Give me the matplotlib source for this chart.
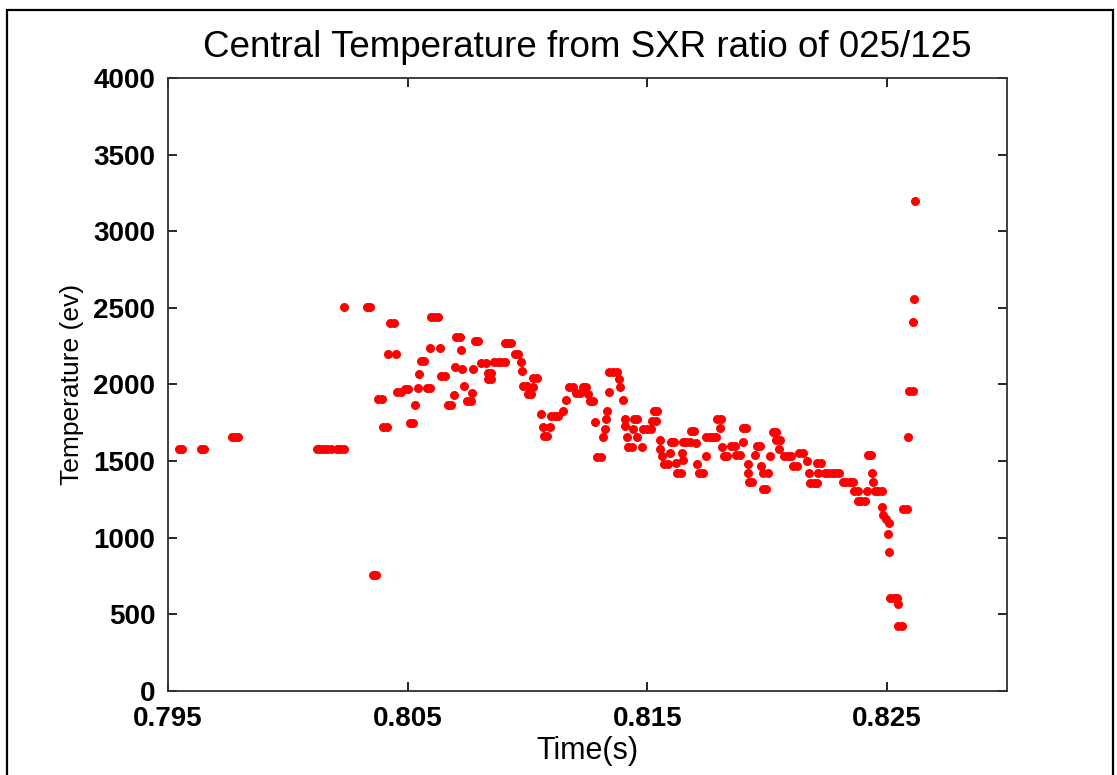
import numpy as np
import matplotlib
matplotlib.use("Agg")
import matplotlib.pyplot as plt
from matplotlib.patches import Rectangle

# time (s) and central temperature (eV)
time_s = [
    0.79546, 0.79560, 0.79638, 0.79652, 0.79765, 0.79779, 0.79794,
    0.80121, 0.80136, 0.80150, 0.80165, 0.80179, 0.80204, 0.80219, 0.80234,
    0.80235, 0.80329, 0.80344, 0.80355, 0.80370, 0.80376, 0.80391, 0.80397,
    0.80412, 0.80416, 0.80427, 0.80442, 0.80452, 0.80457, 0.80472, 0.80488,
    0.80503, 0.80508, 0.80523, 0.80532, 0.80542, 0.80548, 0.80554, 0.80569,
    0.80579, 0.80594, 0.80595, 0.80598, 0.80611, 0.80625, 0.80634, 0.80639,
    0.80654, 0.80668, 0.80683, 0.80692, 0.80696, 0.80703, 0.80718, 0.80721,
    0.80728, 0.80734, 0.80749, 0.80763, 0.80770, 0.80774, 0.80779, 0.80794,
    0.80805, 0.80826, 0.80835, 0.80849, 0.80835, 0.80849, 0.80861, 0.80876,
    0.80890, 0.80905, 0.80905, 0.80919, 0.80932, 0.80946, 0.80961, 0.80974,
    0.80977, 0.80981, 0.80996, 0.81001, 0.81016, 0.81023, 0.81025, 0.81040,
    0.81058, 0.81064, 0.81068, 0.81083, 0.81095, 0.81098, 0.81113, 0.81128,
    0.81148, 0.81159, 0.81175, 0.81190, 0.81204, 0.81219, 0.81231, 0.81246,
    0.81252, 0.81260, 0.81275, 0.81282, 0.81290, 0.81305, 0.81317, 0.81325,
    0.81328, 0.81330, 0.81342, 0.81342, 0.81357, 0.81372, 0.81381, 0.81387,
    0.81399, 0.81405, 0.81407, 0.81415, 0.81420, 0.81435, 0.81440, 0.81443,
    0.81458, 0.81458, 0.81478, 0.81484, 0.81499, 0.81514, 0.81520, 0.81535,
    0.81527, 0.81541, 0.81551, 0.81553, 0.81561, 0.81571, 0.81586, 0.81593,
    0.81598, 0.81613, 0.81619, 0.81625, 0.81640, 0.81643, 0.81647, 0.81648,
    0.81663, 0.81678, 0.81682, 0.81697, 0.81704, 0.81707, 0.81716, 0.81731,
    0.81743, 0.81747, 0.81761, 0.81775, 0.81788, 0.81791, 0.81806, 0.81804,
    0.81812, 0.81819, 0.81834, 0.81849, 0.81864, 0.81870, 0.81885, 0.81898,
    0.81913, 0.81901, 0.81919, 0.81922, 0.81923, 0.81938, 0.81951, 0.81957,
    0.81972, 0.81975, 0.81982, 0.81981, 0.81996, 0.82002, 0.82012, 0.82023,
    0.82038, 0.82037, 0.82052, 0.82051, 0.82071, 0.82086, 0.82101, 0.82109,
    0.82124, 0.82134, 0.82149, 0.82165, 0.82173, 0.82179, 0.82194, 0.82209,
    0.82211, 0.82210, 0.82225, 0.82241, 0.82255, 0.82270, 0.82284, 0.82299,
    0.82316, 0.82330, 0.82344, 0.82357, 0.82363, 0.82378, 0.82378, 0.82393,
    0.82408, 0.82416, 0.82419, 0.82434, 0.82437, 0.82443, 0.82449, 0.82464,
    0.82479, 0.82479, 0.82485, 0.82496, 0.82507, 0.82505, 0.82510, 0.82513,
    0.82528, 0.82543, 0.82546, 0.82548, 0.82563, 0.82569, 0.82584, 0.82586,
    0.82593, 0.82608, 0.82607, 0.82614, 0.82617,
]
temp_ev = [
    1578, 1578, 1578, 1578, 1658, 1658, 1658,
    1578, 1578, 1578, 1578, 1578, 1578, 1578, 1578,
    2507, 2507, 2507, 757, 757, 1902, 1902, 1724,
    1724, 2196, 2399, 2399, 2196, 1950, 1950, 1970,
    1970, 1746, 1746, 1863, 1978, 2068, 2154, 2154,
    1978, 1978, 2235, 2438, 2438, 2438, 2235, 2057,
    2057, 1863, 1863, 1929, 2115, 2311, 2311, 2222,
    2098, 1989, 1893, 1893, 1942, 2098, 2283, 2283,
    2137, 2137, 2076, 2076, 2037, 2037, 2144, 2144,
    2144, 2144, 2272, 2272, 2272, 2196, 2196, 2148,
    2087, 1992, 1992, 1937, 1937, 1985, 2040, 2040,
    1805, 1724, 1665, 1665, 1724, 1790, 1790, 1790,
    1828, 1898, 1985, 1985, 1941, 1941, 1985, 1985,
    1937, 1891, 1891, 1754, 1528, 1528, 1654, 1706,
    1772, 1826, 1952, 2079, 2079, 2079, 2035, 1985,
    1898, 1774, 1725, 1658, 1589, 1589, 1706, 1774,
    1774, 1658, 1589, 1706, 1706, 1706, 1761, 1761,
    1826, 1826, 1637, 1578, 1532, 1480, 1480, 1550,
    1626, 1626, 1489, 1421, 1421, 1550, 1504, 1626,
    1626, 1626, 1697, 1697, 1617, 1480, 1421, 1421,
    1532, 1658, 1658, 1658, 1658, 1774, 1774, 1713,
    1589, 1532, 1532, 1598, 1598, 1539, 1539, 1717,
    1717, 1626, 1480, 1423, 1365, 1365, 1539, 1598,
    1598, 1469, 1419, 1315, 1315, 1423, 1532, 1687,
    1687, 1637, 1637, 1578, 1532, 1532, 1532, 1469,
    1469, 1550, 1550, 1502, 1423, 1354, 1354, 1354,
    1423, 1489, 1489, 1423, 1423, 1423, 1423, 1423,
    1365, 1365, 1365, 1365, 1304, 1304, 1238, 1238,
    1238, 1304, 1539, 1539, 1423, 1365, 1304, 1304,
    1304, 1197, 1147, 1121, 1093, 1023, 903, 603,
    603, 603, 566, 424, 424, 1186, 1186, 1658,
    1959, 1959, 2409, 2557, 3199,
]

x_ticks = [0.795, 0.805, 0.815, 0.825]
x_tick_labels = ["0.795", "0.805", "0.815", "0.825"]
y_ticks = [0, 500, 1000, 1500, 2000, 2500, 3000, 3500, 4000]

plt.rcParams['font.family'] = ['Liberation Sans', 'DejaVu Sans']

fig = plt.figure(figsize=(11.17, 7.75), dpi=100)
ax = fig.add_axes([0.1504, 0.1088, 0.7509, 0.7906])

ax.plot(time_s, temp_ev, linestyle='none', marker='o', markersize=6.5,
        color='red', markeredgecolor='none')

ax.set_xlim(0.795, 0.830)
ax.set_ylim(0, 4000)
ax.set_xticks(x_ticks)
ax.set_xticklabels(x_tick_labels)
ax.set_yticks(y_ticks)

ax.tick_params(direction='in', length=6.5, width=1.2, top=True, right=True,
               labelsize=20, pad=9, colors='black')
ax.tick_params(axis='x', pad=11)
for lab in ax.get_xticklabels() + ax.get_yticklabels():
    lab.set_fontweight('bold')
for sp in ax.spines.values():
    sp.set_linewidth(1.3)
    sp.set_color('#303030')

ax.set_title("Central Temperature from SXR ratio of 025/125", fontsize=26.5, pad=15)
ax.set_xlabel("Time(s)", fontsize=22, labelpad=3)
ax.set_ylabel("Temperature (ev)", fontsize=19, labelpad=7)

# outer frame of the original window
fig.patches.append(Rectangle((7 / 1117, -0.1), 1106 / 1117, 1.1 - 10 / 775,
                             transform=fig.transFigure, fill=False,
                             edgecolor='black', linewidth=1.6))

fig.savefig("out.png", dpi=100, facecolor='white')
